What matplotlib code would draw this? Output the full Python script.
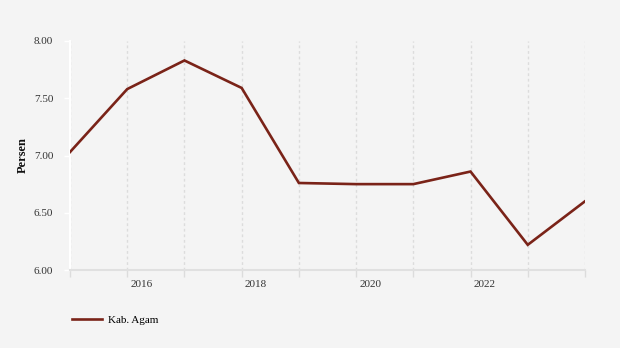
import matplotlib.pyplot as plt
from matplotlib.transforms import ScaledTranslation

plt.rcParams['font.family'] = ['Liberation Serif', 'DejaVu Serif']

tahun = [2015, 2016, 2017, 2018, 2019, 2020, 2021, 2022, 2023, 2024]
persen = [7.03, 7.58, 7.83, 7.59, 6.76, 6.75, 6.75, 6.86, 6.22, 6.60]
label_tahun = [2016, 2018, 2020, 2022]
label_y = [6.00, 6.50, 7.00, 7.50, 8.00]

fig = plt.figure(figsize=(6.2, 3.48), dpi=100, facecolor='#f4f4f4')
ax = fig.add_axes([0.1129, 0.2241, 0.8306, 0.6581])
ax.set_facecolor('#f4f4f4')

garis, = ax.plot(tahun, persen, color='#7a2318', lw=1.9, solid_joinstyle='miter',
                 label='Kab. Agam', zorder=3)

ax.set_xlim(2015, 2024)
ax.set_ylim(6.0, 8.0)

# garis grid vertikal tiap tahun
ax.set_xticks(tahun)
ax.set_xticklabels([''] * len(tahun))
ax.grid(axis='x', color='#dcdcdc', lw=1, ls=(0, (2, 2)))
ax.tick_params(axis='x', length=5, color='#dcdcdc', width=1, direction='out')

# label tahun sedikit bergeser ke kanan
geser = ScaledTranslation(14 / 100, 0, fig.dpi_scale_trans)
for t in label_tahun:
    ax.text(t, -0.045, str(t), transform=ax.get_xaxis_transform() + geser,
            ha='center', va='top', fontsize=8, color='#333333')

ax.set_yticks(label_y)
ax.set_yticklabels([f'{v:.2f}' for v in label_y], fontsize=8, color='#333333')
ax.tick_params(axis='y', length=4, color='#ffffff', width=1, pad=8)
ax.set_ylabel('Persen', fontsize=9, fontweight='bold', color='#111111', labelpad=4)

for s in ['top', 'right']:
    ax.spines[s].set_visible(False)
ax.spines['left'].set_color('#ffffff')
ax.spines['left'].set_linewidth(1.5)
ax.spines['bottom'].set_color('#e0e0e0')
ax.spines['bottom'].set_linewidth(1.5)

fig.legend(handles=[garis], loc='center left', bbox_to_anchor=(0.1, 0.08),
           frameon=False, fontsize=8, handlelength=2.7, handletextpad=0.5)

fig.savefig('out.png', dpi=100, facecolor=fig.get_facecolor())
